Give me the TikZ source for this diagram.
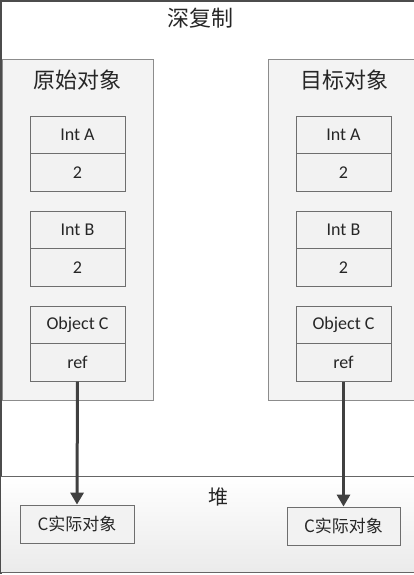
\documentclass[tikz,border=0pt]{standalone}
\usepackage{fontspec}
\setmainfont{Carlito}
\newfontfamily\cjk{Noto Sans CJK SC}
\usetikzlibrary{arrows.meta}
\definecolor{panelfill}{HTML}{F3F3F3}
\definecolor{panelline}{HTML}{8C8C8C}
\definecolor{boxfill}{HTML}{F2F2F2}
\definecolor{boxline}{HTML}{6E6E6E}
\definecolor{arrowcol}{HTML}{404040}
\tikzset{
  panel/.style={draw=panelline, fill=panelfill, line width=0.8pt},
  field/.style={draw=boxline, fill=boxfill, line width=0.8pt, minimum width=95pt, minimum height=37.5pt, inner sep=0pt, font=\fontsize{18}{18}\selectfont, text=black!85},
  heapobj/.style={draw=boxline, fill=boxfill, line width=0.8pt, minimum width=114pt, minimum height=38pt, inner sep=0pt, font=\cjk\fontsize{17}{17}\selectfont, text=black!85},
  ptr/.style={draw=arrowcol, line width=3pt, -{Triangle[length=12pt,width=13pt]}},
  cjklabel/.style={font=\cjk\fontsize{22}{22}\selectfont, text=black!85},
}
\begin{document}
\begin{tikzpicture}[x=1pt,y=-1pt]
\useasboundingbox (0,0) rectangle (414,575);
% overall frame
\draw[line width=1.2pt, draw=black!70] (420,1) -- (1,1) -- (1,574);
% heap area
\shade[top color=white, bottom color=black!8] (1,476) rectangle (414,572);
\draw[line width=0.8pt, draw=black!60] (420,476) -- (1,476);
\draw[line width=1pt, draw=black!60] (1,572) -- (420,572);
\node[font=\cjk\fontsize{20}{20}\selectfont, text=black!85] (heaplabel) at (218,497) {堆};
% title
\node[cjklabel] (title) at (200,18) {深复制};
% panels
\draw[panel] (2,59) rectangle (153,400);
\draw[panel] (268,59) rectangle (420,400);
\node[cjklabel] (srcname) at (77,80) {原始对象};
\node[cjklabel] (dstname) at (344,80) {目标对象};
% source object fields
\node[field] (sa) at (77.5,135) {Int A};
\node[field] (sav) at (77.5,172.5) {2};
\node[field] (sb) at (77.5,230) {Int B};
\node[field] (sbv) at (77.5,267.5) {2};
\node[field] (sc) at (77.5,325) {Object C};
\node[field] (scv) at (77.5,362.5) {ref};
% target object fields
\node[field] (da) at (343.5,135) {Int A};
\node[field] (dav) at (343.5,172.5) {2};
\node[field] (db) at (343.5,230) {Int B};
\node[field] (dbv) at (343.5,267.5) {2};
\node[field] (dc) at (343.5,325) {Object C};
\node[field] (dcv) at (343.5,362.5) {ref};
% heap objects
\node[heapobj] (hs) at (77,524) {C实际对象};
\node[heapobj, minimum width=113pt] (hd) at (343.5,526) {C实际对象};
% references
\draw[ptr] (scv.south) -- (hs.north);
\draw[ptr] (dcv.south) -- (hd.north);
\end{tikzpicture}
\end{document}
